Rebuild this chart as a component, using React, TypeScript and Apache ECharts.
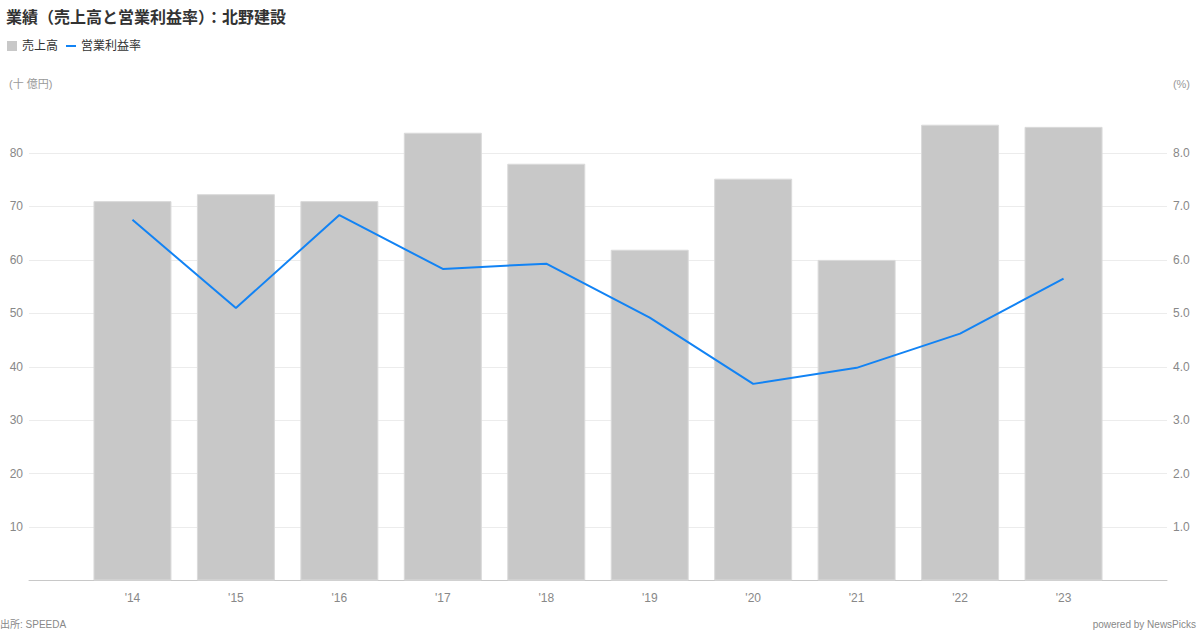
import React, { useEffect, useRef } from "react";
import * as echarts from "echarts";

const years = ["'14", "'15", "'16", "'17", "'18", "'19", "'20", "'21", "'22", "'23"];
const sales = [71.0, 72.3, 71.0, 83.8, 78.0, 61.9, 75.2, 60.0, 85.3, 84.9];
const opMargin = [6.75, 5.1, 6.84, 5.83, 5.93, 4.92, 3.68, 3.98, 4.62, 5.65];
const leftTicks = [0, 10, 20, 30, 40, 50, 60, 70, 80, 90];
const rightTicks = [0, 1, 2, 3, 4, 5, 6, 7, 8, 9];

const FONT = "'Liberation Sans', 'Noto Sans CJK JP', sans-serif";

export default function App() {
  const ref = useRef<HTMLDivElement>(null);
  useEffect(() => {
    document.body.style.margin = "0";
    const chart = echarts.init(ref.current!, undefined, { renderer: "svg" });
    const cats = ["", ...years, ""];
    const barData = [null, ...sales, null];
    const lineData = [null, ...opMargin, null];
    const gridColors = leftTicks.map((_, i) =>
      i === 0 || i === leftTicks.length - 1 ? "rgba(0,0,0,0)" : "#ececec"
    );
    chart.setOption({
      animation: false,
      textStyle: { fontFamily: FONT },
      title: {
        text: "業績（売上高と営業利益率）：北野建設",
        left: 1,
        top: 4,
        textStyle: { fontSize: 16, fontWeight: "bold", color: "#333", fontFamily: FONT },
      },
      legend: {
        left: 2,
        top: 35,
        itemGap: 8,
        itemWidth: 10,
        itemHeight: 10,
        textStyle: { fontSize: 12, color: "#333", fontFamily: FONT },
        data: [
          { name: "売上高", icon: "rect", itemStyle: { color: "#c8c8c8", borderWidth: 0 } },
          { name: "営業利益率", icon: "path://M0,4 L10,4 L10,6 L0,6 Z", itemStyle: { color: "#1283f4" } },
        ],
      },
      grid: { left: 29, right: 33, top: 99.6, bottom: 49.5, containLabel: false },
      xAxis: {
        type: "category",
        data: cats,
        boundaryGap: false,
        axisLine: { lineStyle: { color: "#c8c8c8", width: 1 } },
        axisTick: { show: false },
        axisLabel: { interval: 0, margin: 11, fontSize: 12, color: "#888", fontFamily: FONT },
        splitLine: { show: false },
      },
      yAxis: [
        {
          type: "value",
          min: leftTicks[0],
          max: leftTicks[leftTicks.length - 1],
          interval: 10,
          axisLine: { show: false },
          axisTick: { show: false },
          axisLabel: {
            margin: 6,
            fontSize: 12,
            color: "#888",
            fontFamily: FONT,
            formatter: (v: number) => (v === 0 || v === 90 ? "" : String(v)),
          },
          splitLine: { show: true, lineStyle: { color: gridColors, width: 1 } },
        },
        {
          type: "value",
          min: rightTicks[0],
          max: rightTicks[rightTicks.length - 1],
          interval: 1,
          axisLine: { show: false },
          axisTick: { show: false },
          axisLabel: {
            margin: 6,
            fontSize: 12,
            color: "#888",
            fontFamily: FONT,
            formatter: (v: number) => (v === 0 || v === 9 ? "" : v.toFixed(1)),
          },
          splitLine: { show: false },
        },
      ],
      graphic: [
        {
          type: "text",
          left: 9,
          top: 78,
          style: { text: "(十 億円)", fontSize: 11, fill: "#999", fontFamily: FONT },
        },
        {
          type: "text",
          right: 10,
          top: 78,
          style: { text: "(%)", fontSize: 11, fill: "#999", fontFamily: FONT },
        },
        {
          type: "text",
          left: 0,
          top: 619,
          style: { text: "出所: SPEEDA", fontSize: 10, fill: "#888", fontFamily: FONT },
        },
        {
          type: "text",
          right: 4,
          top: 619,
          style: { text: "powered by NewsPicks", fontSize: 10, fill: "#888", fontFamily: FONT },
        },
      ],
      series: [
        {
          name: "売上高",
          type: "bar",
          data: barData,
          yAxisIndex: 0,
          barWidth: 78,
          itemStyle: { color: "#c8c8c8", borderColor: "#dadada", borderWidth: 1 },
          emphasis: { disabled: true },
        },
        {
          name: "営業利益率",
          type: "line",
          data: lineData,
          yAxisIndex: 1,
          symbol: "none",
          lineStyle: { color: "#1283f4", width: 2 },
          itemStyle: { color: "#1283f4" },
          connectNulls: false,
          emphasis: { disabled: true },
        },
      ],
    });
    return () => chart.dispose();
  }, []);
  return <div ref={ref} style={{ width: 1200, height: 630 }} />;
}
